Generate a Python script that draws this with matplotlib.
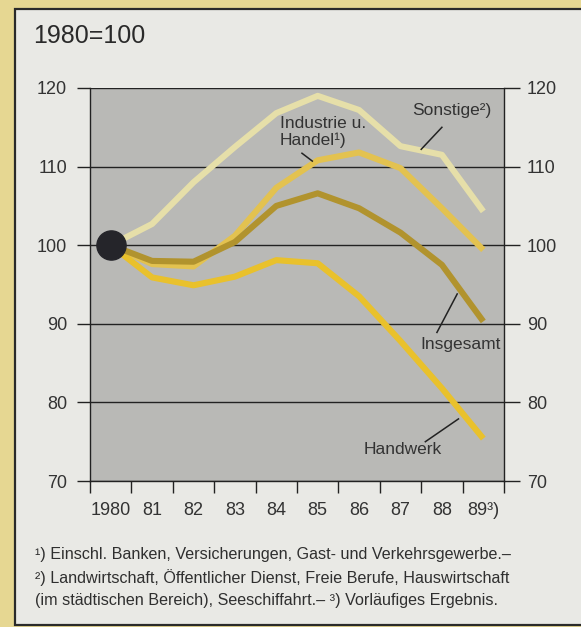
import matplotlib
matplotlib.use("Agg")
import matplotlib.pyplot as plt
from matplotlib.patches import Rectangle

plt.rcParams['font.family'] = ['Liberation Sans', 'DejaVu Sans']

year_labels = ["1980", "81", "82", "83", "84", "85", "86", "87", "88", "89³)"]
sonstige = [100, 102.7, 108.0, 112.5, 116.8, 119.0, 117.2, 112.6, 111.5, 104.3]
industrie = [100, 97.6, 97.3, 101.2, 107.3, 110.8, 111.8, 109.8, 104.7, 99.4]
insgesamt = [100, 98.0, 97.9, 100.4, 105.0, 106.6, 104.7, 101.6, 97.5, 90.3]
handwerk = [100, 95.9, 94.9, 96.0, 98.1, 97.7, 93.5, 87.8, 81.8, 75.4]
y_ticks = [70, 80, 90, 100, 110, 120]

W, H = 581, 627
fig = plt.figure(figsize=(W / 100, H / 100), dpi=100)
fig.patch.set_facecolor('#e6d792')

# light panel with dark border
panel = Rectangle((15 / W, 1 - 625 / H), 1.0, (625 - 9) / H, transform=fig.transFigure,
                  facecolor='#e9e9e5', edgecolor='#2a2a2a', linewidth=1.6, zorder=-10)
fig.add_artist(panel)

ax = fig.add_axes([90 / W, 1 - 481 / H, (504 - 90) / W, (481 - 88) / H])
ax.set_zorder(1)
ax.set_facecolor('#b9b9b6')
ax.set_xlim(0, 10)
ax.set_ylim(70, 120)

xs = [i + 0.5 for i in range(len(year_labels))]

lw = 4.4
ax.plot(xs, sonstige, color='#e6dfa9', lw=lw, solid_joinstyle='round', solid_capstyle='butt', zorder=3)
ax.plot(xs, industrie, color='#e3c250', lw=lw, solid_joinstyle='round', solid_capstyle='butt', zorder=3)
ax.plot(xs, handwerk, color='#e9c12c', lw=lw, solid_joinstyle='round', solid_capstyle='butt', zorder=3)
ax.plot(xs, insgesamt, color='#b1932e', lw=lw, solid_joinstyle='round', solid_capstyle='butt', zorder=4)
ax.plot([xs[0]], [insgesamt[0]], 'o', color='#25252a', markersize=21, zorder=6)

# gridlines
for v in y_ticks:
    ax.axhline(v, color='#222222', lw=1.0, zorder=2)

for s in ['left', 'right', 'bottom']:
    ax.spines[s].set_color('#222222')
    ax.spines[s].set_linewidth(1.0)
ax.spines['top'].set_visible(False)

ax.set_yticks(y_ticks)
ax.set_yticklabels([str(v) for v in y_ticks])
ax.tick_params(axis='y', which='both', direction='out', length=9.4, width=1.0,
               left=True, right=True, labelleft=True, labelright=True,
               labelsize=13, colors='#222222', pad=7)
ax.tick_params(axis='y', labelcolor='#333333')
for t in ax.yaxis.get_major_ticks():
    t.tick2line.set_markersize(11.5)
    t.label2.set_x(1.0)

ax.set_xticks(range(11))
ax.set_xticklabels([])
ax.set_xticks(xs, minor=True)
ax.set_xticklabels(year_labels, minor=True)
ax.tick_params(axis='x', which='major', direction='out', length=8.6, width=1.0, colors='#222222')
ax.tick_params(axis='x', which='minor', length=0, labelsize=13, labelcolor='#333333', pad=15)

# series labels with leader lines
tc = '#333333'
fs = 12.5
ax.text(4.59, 114.4, "Industrie u.\nHandel¹)", fontsize=fs, color=tc, ha='left', va='center',
        linespacing=1.1, zorder=7)
ax.plot([5.12, 5.37], [111.7, 110.7], color='#222222', lw=1.1, zorder=7)
ax.text(7.78, 117.2, "Sonstige²)", fontsize=fs, color=tc, ha='left', va='center', zorder=7)
ax.plot([8.5, 8.0], [115.0, 112.2], color='#222222', lw=1.1, zorder=7)
ax.text(7.97, 87.4, "Insgesamt", fontsize=fs, color=tc, ha='left', va='center', zorder=7)
ax.plot([8.87, 8.38], [93.8, 88.9], color='#222222', lw=1.1, zorder=7)
ax.text(6.6, 74.0, "Handwerk", fontsize=fs, color=tc, ha='left', va='center', zorder=7)
ax.plot([8.9, 8.1], [77.9, 75.0], color='#222222', lw=1.1, zorder=7)

# title
fig.text(33 / W, 1 - 36 / H, "1980=100", fontsize=18, color='#2a2a2a', ha='left', va='center')

# footnotes
notes = ["¹) Einschl. Banken, Versicherungen, Gast- und Verkehrsgewerbe.–",
         "²) Landwirtschaft, Öffentlicher Dienst, Freie Berufe, Hauswirtschaft",
         "(im städtischen Bereich), Seeschiffahrt.– ³) Vorläufiges Ergebnis."]
for i, n in enumerate(notes):
    fig.text(35 / W, 1 - (554 + 23.5 * i) / H, n, fontsize=11.6, color='#2f2f2f',
             ha='left', va='center')

fig.savefig('out.png', dpi=100, facecolor=fig.get_facecolor())
